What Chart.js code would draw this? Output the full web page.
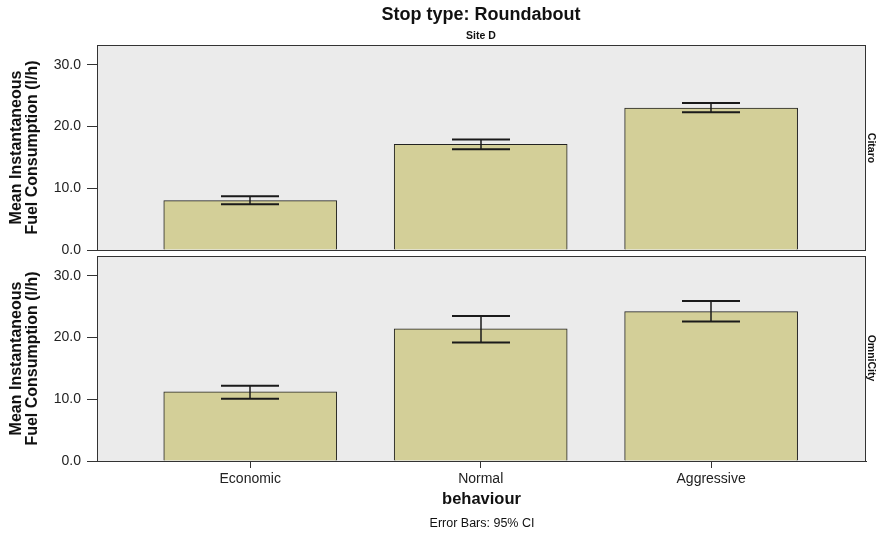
<!DOCTYPE html>
<html>
<head>
<meta charset="utf-8">
<script src="https://cdn.jsdelivr.net/npm/chart.js@4/dist/chart.umd.min.js"></script>
<style>
  html, body { margin: 0; padding: 0; background: #fff; }
  #wrap { position: relative; width: 882px; height: 533px; font-family: "Liberation Sans", Arial, Helvetica, sans-serif; color: #111; }
  canvas { position: absolute; left: 0; top: 0; }
  .txt { position: absolute; white-space: nowrap; transform: translate(-50%, -50%); }
  .strip { position: absolute; white-space: nowrap; font-weight: bold; font-size: 10.5px; transform: translate(-50%, -50%) rotate(90deg); }
</style>
</head>
<body>
<div id="wrap">
  <canvas id="topChart" width="882" height="533"></canvas>
  <canvas id="bottomChart" width="882" height="533"></canvas>
  <div class="txt" style="left:481px; top:14px; font-size:18px; font-weight:bold;">Stop type: Roundabout</div>
  <div class="txt" style="left:481px; top:35px; font-size:10.5px; font-weight:bold;">Site D</div>
  <div class="strip" style="left:872px; top:148px;">Citaro</div>
  <div class="strip" style="left:872px; top:358px;">OmniCity</div>
  <div class="txt" style="left:482px; top:523px; font-size:12.5px;">Error Bars: 95% CI</div>
</div>
<script>
// Driving behaviour categories and y-axis ticks
const categories = ['Economic', 'Normal', 'Aggressive'];
const yTicks = [0, 10, 20, 30];

// Citaro: mean fuel consumption (l/h) with 95% CI bounds
const citaroMean = [8.0, 17.1, 23.0];
const citaroLow  = [7.4, 16.3, 22.3];
const citaroHigh = [8.7, 17.9, 23.8];

// OmniCity: mean fuel consumption (l/h) with 95% CI bounds
const omniMean = [11.2, 21.4, 24.2];
const omniLow  = [10.1, 19.2, 22.6];
const omniHigh = [12.2, 23.5, 25.9];

const FONT = "'Liberation Sans', Arial, Helvetica, sans-serif";
const PANEL_BG = '#ebebeb';
const BAR_FILL = '#d3cf98';
const INK = '#1a1a1a';

// Grey panel background and frame around the plotting area
const panelFrame = {
  id: 'panelFrame',
  beforeDatasetsDraw(chart) {
    const {ctx, chartArea: a} = chart;
    ctx.save();
    ctx.fillStyle = PANEL_BG;
    ctx.fillRect(a.left, a.top, a.right - a.left, a.bottom - a.top);
    ctx.restore();
  },
  afterDatasetsDraw(chart) {
    const {ctx, chartArea: a} = chart;
    ctx.save();
    ctx.strokeStyle = '#333';
    ctx.lineWidth = 1;
    ctx.strokeRect(a.left + 0.5, a.top + 0.5, a.right - a.left - 1, a.bottom - a.top);
    ctx.restore();
  }
};

// Confidence-interval whiskers drawn through the chart's own scales
const errorBars = {
  id: 'errorBars',
  afterDraw(chart, args, opts) {
    const {ctx, scales: {x, y}} = chart;
    const half = opts.capWidth / 2;
    ctx.save();
    ctx.strokeStyle = INK;
    opts.low.forEach((lo, i) => {
      const px = Math.round(x.getPixelForValue(i));
      const yLo = y.getPixelForValue(lo);
      const yHi = y.getPixelForValue(opts.high[i]);
      ctx.lineWidth = 1.5;
      ctx.beginPath();
      ctx.moveTo(px, yLo);
      ctx.lineTo(px, yHi);
      ctx.stroke();
      ctx.lineWidth = 2;
      ctx.beginPath();
      ctx.moveTo(px - half, yHi);
      ctx.lineTo(px + half, yHi);
      ctx.moveTo(px - half, yLo);
      ctx.lineTo(px + half, yLo);
      ctx.stroke();
    });
    ctx.restore();
  }
};

function makePanel(canvasId, means, low, high, isBottom) {
  const xScale = {
    type: 'linear',
    display: isBottom,
    offset: false,
    min: -0.665,
    max: 2.672,
    afterBuildTicks(scale) { scale.ticks = categories.map((_, i) => ({value: i})); },
    ticks: {
      callback: (v) => categories[v],
      font: {family: FONT, size: 14},
      color: '#222',
      padding: 3,
      maxRotation: 0,
      autoSkip: false
    },
    grid: {offset: false, drawOnChartArea: false, drawTicks: true, tickLength: 7, color: '#333'},
    border: {display: true, color: '#333'},
    title: {
      display: true,
      text: 'behaviour',
      font: {family: FONT, size: 16.5, weight: 'bold', lineHeight: 1.2},
      color: '#111',
      padding: {top: 0, bottom: 24}
    }
  };
  if (isBottom) {
    xScale.afterFit = (scale) => { scale.height = 72; };
  }
  return new Chart(document.getElementById(canvasId), {
    type: 'bar',
    data: {
      datasets: [{
        data: means.map((v, i) => ({x: i, y: v})),
        backgroundColor: BAR_FILL,
        borderColor: '#222',
        borderWidth: 1,
        borderSkipped: 'bottom',
        barThickness: 173
      }]
    },
    plugins: [panelFrame, errorBars],
    options: {
      responsive: false,
      animation: false,
      devicePixelRatio: 1,
      layout: {
        padding: isBottom
          ? {top: 256, right: 16, bottom: 0, left: 0}
          : {top: 45, right: 16, bottom: 283, left: 0}
      },
      plugins: {
        legend: {display: false},
        tooltip: {enabled: false},
        errorBars: {low: low, high: high, capWidth: 58}
      },
      scales: {
        x: xScale,
        y: {
          min: 0,
          max: 33.2,
          afterBuildTicks(scale) { scale.ticks = yTicks.map(v => ({value: v})); },
          afterFit(scale) { scale.width = 97; },
          ticks: {
            callback: (v) => v.toFixed(1),
            font: {family: FONT, size: 14},
            color: '#222',
            padding: 6
          },
          grid: {drawOnChartArea: false, drawTicks: true, tickLength: 10, color: '#333'},
          border: {display: true, color: '#333'},
          title: {
            display: true,
            text: ['Mean Instantaneous', 'Fuel Consumption (l/h)'],
            font: {family: FONT, size: 16, weight: 'bold', lineHeight: '16.5px'},
            color: '#111',
            padding: {top: 8, bottom: 0}
          }
        }
      }
    }
  });
}

makePanel('topChart', citaroMean, citaroLow, citaroHigh, false);
makePanel('bottomChart', omniMean, omniLow, omniHigh, true);
</script>
</body>
</html>
